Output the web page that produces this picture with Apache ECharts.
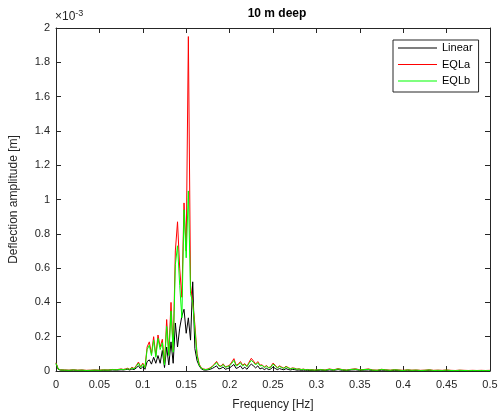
<!DOCTYPE html>
<html>
<head>
<meta charset="utf-8">
<script src="https://cdn.jsdelivr.net/npm/echarts@6/dist/echarts.min.js"></script>
<style>
  html, body { margin: 0; padding: 0; background: #fff; }
  #chart { width: 502px; height: 418px; }
</style>
</head>
<body>
<div id="chart"></div>
<script>
// Frequency bins [Hz]
const freq = [
  0, 0.0025, 0.005, 0.01, 0.015, 0.02, 0.025, 0.03, 0.035, 0.04, 0.045, 0.05, 0.055, 0.06, 0.065, 0.07, 0.075, 0.0775,
  0.08, 0.0825, 0.085, 0.0875, 0.09, 0.0925, 0.095, 0.0975, 0.1, 0.1025, 0.105, 0.1075, 0.11, 0.1125, 0.115, 0.1175,
  0.12, 0.1225, 0.125, 0.1275, 0.13, 0.1325, 0.135, 0.1375, 0.14, 0.1425, 0.145, 0.1475, 0.15, 0.1525, 0.155, 0.1575,
  0.16, 0.1625, 0.165, 0.1675,
  0.17, 0.1725, 0.175, 0.1775, 0.18, 0.1825, 0.185, 0.1875, 0.19, 0.1925, 0.195, 0.1975, 0.2, 0.2025, 0.205, 0.2075,
  0.21, 0.2125, 0.215, 0.2175, 0.22, 0.2225, 0.225, 0.2275, 0.23, 0.2325, 0.235, 0.2375, 0.24, 0.2425, 0.245, 0.2475,
  0.25, 0.2525, 0.255, 0.2575, 0.26, 0.2625, 0.265, 0.2675, 0.27, 0.2725, 0.275, 0.2775, 0.28, 0.2825, 0.285, 0.2875,
  0.29, 0.2925, 0.295, 0.2975, 0.3,
  0.305, 0.31, 0.315, 0.32, 0.325, 0.33, 0.335, 0.34, 0.345, 0.35, 0.355, 0.36, 0.365, 0.37, 0.375, 0.38, 0.385, 0.39,
  0.395, 0.4, 0.405, 0.41, 0.415, 0.42, 0.425, 0.43, 0.435, 0.44, 0.445, 0.45, 0.455, 0.46, 0.465, 0.47, 0.475, 0.48,
  0.485, 0.49, 0.495, 0.5
];

// Deflection amplitude, in units of 1e-3 m
const linear = [
  0.042, 0.010, 0.005, 0.004, 0.003, 0.005, 0.003, 0.004, 0.002, 0.003, 0.004, 0.003, 0.004, 0.004, 0.006, 0.005, 0.007, 0.006,
  0.008, 0.010, 0.006, 0.012, 0.008, 0.018, 0.030, 0.012, 0.025, 0.010, 0.055, 0.065, 0.040, 0.080, 0.045, 0.090,
  0.045, 0.120, 0.020, 0.140, 0.035, 0.170, 0.045, 0.280, 0.140, 0.250, 0.320, 0.360, 0.220, 0.310, 0.180, 0.520,
  0.130, 0.060, 0.030, 0.012,
  0.006, 0.005, 0.007, 0.010, 0.015, 0.022, 0.030, 0.012, 0.015, 0.024, 0.010, 0.014, 0.018, 0.028, 0.038, 0.015,
  0.020, 0.030, 0.012, 0.022, 0.010, 0.028, 0.040, 0.030, 0.018, 0.030, 0.012, 0.018, 0.008, 0.016, 0.008, 0.012,
  0.024, 0.015, 0.008, 0.014, 0.010, 0.007, 0.014, 0.009, 0.006, 0.009, 0.008, 0.005, 0.006, 0.004, 0.005, 0.004,
  0.004, 0.003, 0.004, 0.003, 0.003,
  0.005, 0.003, 0.006, 0.004, 0.008, 0.004, 0.003, 0.006, 0.007, 0.004, 0.005, 0.006, 0.003, 0.002, 0.005, 0.004, 0.002, 0.004,
  0.003, 0.002, 0.004, 0.002, 0.003, 0.002, 0.002, 0.004, 0.002, 0.002, 0.002, 0.003, 0.002, 0.001, 0.002, 0.002, 0.001, 0.002,
  0.001, 0.002, 0.001, 0.002
];

const eqla = [
  0.048, 0.013, 0.007, 0.006, 0.005, 0.007, 0.005, 0.006, 0.004, 0.005, 0.006, 0.005, 0.007, 0.006, 0.009, 0.008, 0.012, 0.009,
  0.012, 0.016, 0.010, 0.022, 0.014, 0.032, 0.052, 0.024, 0.046, 0.022, 0.140, 0.170, 0.100, 0.200, 0.090, 0.210,
  0.140, 0.185, 0.040, 0.300, 0.100, 0.400, 0.120, 0.700, 0.870, 0.600, 0.430, 0.980, 0.700, 1.950, 0.500, 0.400,
  0.270, 0.100, 0.040, 0.018,
  0.012, 0.009, 0.012, 0.018, 0.028, 0.040, 0.056, 0.034, 0.028, 0.042, 0.025, 0.028, 0.034, 0.052, 0.072, 0.034,
  0.040, 0.055, 0.034, 0.043, 0.028, 0.052, 0.074, 0.058, 0.040, 0.055, 0.034, 0.036, 0.023, 0.032, 0.020, 0.025,
  0.046, 0.034, 0.020, 0.030, 0.023, 0.017, 0.028, 0.020, 0.014, 0.018, 0.016, 0.011, 0.013, 0.009, 0.011, 0.008,
  0.009, 0.007, 0.008, 0.006, 0.007,
  0.009, 0.006, 0.012, 0.007, 0.014, 0.008, 0.006, 0.010, 0.013, 0.007, 0.009, 0.012, 0.006, 0.005, 0.010, 0.007, 0.005, 0.008,
  0.006, 0.004, 0.007, 0.005, 0.006, 0.004, 0.005, 0.007, 0.004, 0.005, 0.004, 0.006, 0.004, 0.003, 0.005, 0.004, 0.003, 0.004,
  0.003, 0.004, 0.003, 0.004
];

const eqlb = [
  0.045, 0.012, 0.006, 0.005, 0.004, 0.006, 0.004, 0.005, 0.003, 0.004, 0.005, 0.004, 0.006, 0.005, 0.008, 0.007, 0.010, 0.008,
  0.010, 0.013, 0.009, 0.018, 0.012, 0.028, 0.046, 0.021, 0.040, 0.019, 0.125, 0.150, 0.090, 0.180, 0.080, 0.190,
  0.125, 0.165, 0.035, 0.260, 0.090, 0.350, 0.110, 0.620, 0.730, 0.500, 0.310, 0.940, 0.660, 1.050, 0.450, 0.400,
  0.240, 0.090, 0.035, 0.016,
  0.010, 0.008, 0.010, 0.015, 0.025, 0.035, 0.050, 0.030, 0.025, 0.038, 0.022, 0.025, 0.030, 0.045, 0.062, 0.030,
  0.035, 0.048, 0.030, 0.038, 0.025, 0.045, 0.062, 0.050, 0.035, 0.048, 0.030, 0.032, 0.020, 0.028, 0.018, 0.022,
  0.040, 0.030, 0.018, 0.026, 0.020, 0.015, 0.025, 0.018, 0.012, 0.016, 0.014, 0.010, 0.012, 0.008, 0.010, 0.007,
  0.008, 0.006, 0.007, 0.005, 0.006,
  0.008, 0.005, 0.010, 0.006, 0.012, 0.007, 0.005, 0.009, 0.011, 0.006, 0.008, 0.010, 0.005, 0.004, 0.009, 0.006, 0.004, 0.007,
  0.005, 0.003, 0.006, 0.004, 0.005, 0.003, 0.004, 0.006, 0.003, 0.004, 0.003, 0.005, 0.003, 0.002, 0.004, 0.003, 0.002, 0.003,
  0.002, 0.003, 0.002, 0.003
];

const seriesNames = ['Linear', 'EQLa', 'EQLb'];
const seriesColors = ['#000000', '#ff0000', '#00ff00'];
const seriesValues = [linear, eqla, eqlb];

const FONT = "'Liberation Sans', Arial, Helvetica, sans-serif";
const AXIS_COLOR = '#262626';

const chart = echarts.init(document.getElementById('chart'), null, { renderer: 'canvas' });

function axisBase() {
  return {
    type: 'value',
    axisLine: { show: true, onZero: false, lineStyle: { color: AXIS_COLOR, width: 1 } },
    axisTick: { show: true, inside: true, length: 5, lineStyle: { color: AXIS_COLOR, width: 1 } },
    splitLine: { show: false },
    axisLabel: { color: AXIS_COLOR, fontSize: 11, fontFamily: FONT }
  };
}

const option = {
  animation: false,
  backgroundColor: '#ffffff',
  title: {
    text: '10 m deep',
    left: 272, top: 3, textAlign: 'center',
    textStyle: { fontFamily: FONT, fontSize: 12, fontWeight: 'bold', color: '#000' }
  },
  grid: { left: 55, right: 12, top: 28, bottom: 47 },
  legend: {
    data: seriesNames,
    orient: 'vertical',
    left: 393, top: 40,
    padding: [1, 6, 4, 5],
    itemGap: 2.5,
    itemWidth: 39,
    itemHeight: 1,
    icon: 'rect',
    borderColor: AXIS_COLOR,
    borderWidth: 1,
    borderRadius: 0,
    backgroundColor: '#ffffff',
    textStyle: { fontFamily: FONT, fontSize: 11, lineHeight: 14, color: '#000' }
  },
  xAxis: [
    Object.assign(axisBase(), {
      min: 0, max: 0.5, interval: 0.05,
      name: 'Frequency [Hz]', nameLocation: 'middle', nameGap: 28,
      nameTextStyle: { fontFamily: FONT, fontSize: 12, color: AXIS_COLOR },
      axisLabel: { color: AXIS_COLOR, fontSize: 11, fontFamily: FONT, margin: 8 }
    }),
    Object.assign(axisBase(), {
      position: 'top', min: 0, max: 0.5, interval: 0.05,
      axisLabel: { show: false }
    })
  ],
  yAxis: [
    Object.assign(axisBase(), {
      min: 0, max: 2, interval: 0.2,
      name: 'Deflection amplitude [m]', nameLocation: 'middle', nameGap: 36,
      nameTextStyle: { fontFamily: FONT, fontSize: 12, color: AXIS_COLOR },
      axisLabel: { color: AXIS_COLOR, fontSize: 11, fontFamily: FONT, margin: 6 }
    }),
    Object.assign(axisBase(), {
      position: 'right', min: 0, max: 2, interval: 0.2,
      axisLabel: { show: false }
    })
  ],
  graphic: [{
    type: 'text',
    left: 55, top: 9,
    style: {
      text: '×10{sup|-3}',
      fontFamily: FONT, fontSize: 12, fill: AXIS_COLOR,
      rich: { sup: { fontFamily: FONT, fontSize: 9, fill: AXIS_COLOR, verticalAlign: 'bottom', padding: [0, 0, 7, 0] } }
    }
  }],
  series: seriesNames.map((name, k) => ({
    name,
    type: 'line',
    xAxisIndex: 0, yAxisIndex: 0,
    symbol: 'none',
    color: seriesColors[k],
    lineStyle: { color: seriesColors[k], width: 1 },
    data: freq.map((f, i) => [f, seriesValues[k][i]])
  }))
};

chart.setOption(option);
</script>
</body>
</html>
